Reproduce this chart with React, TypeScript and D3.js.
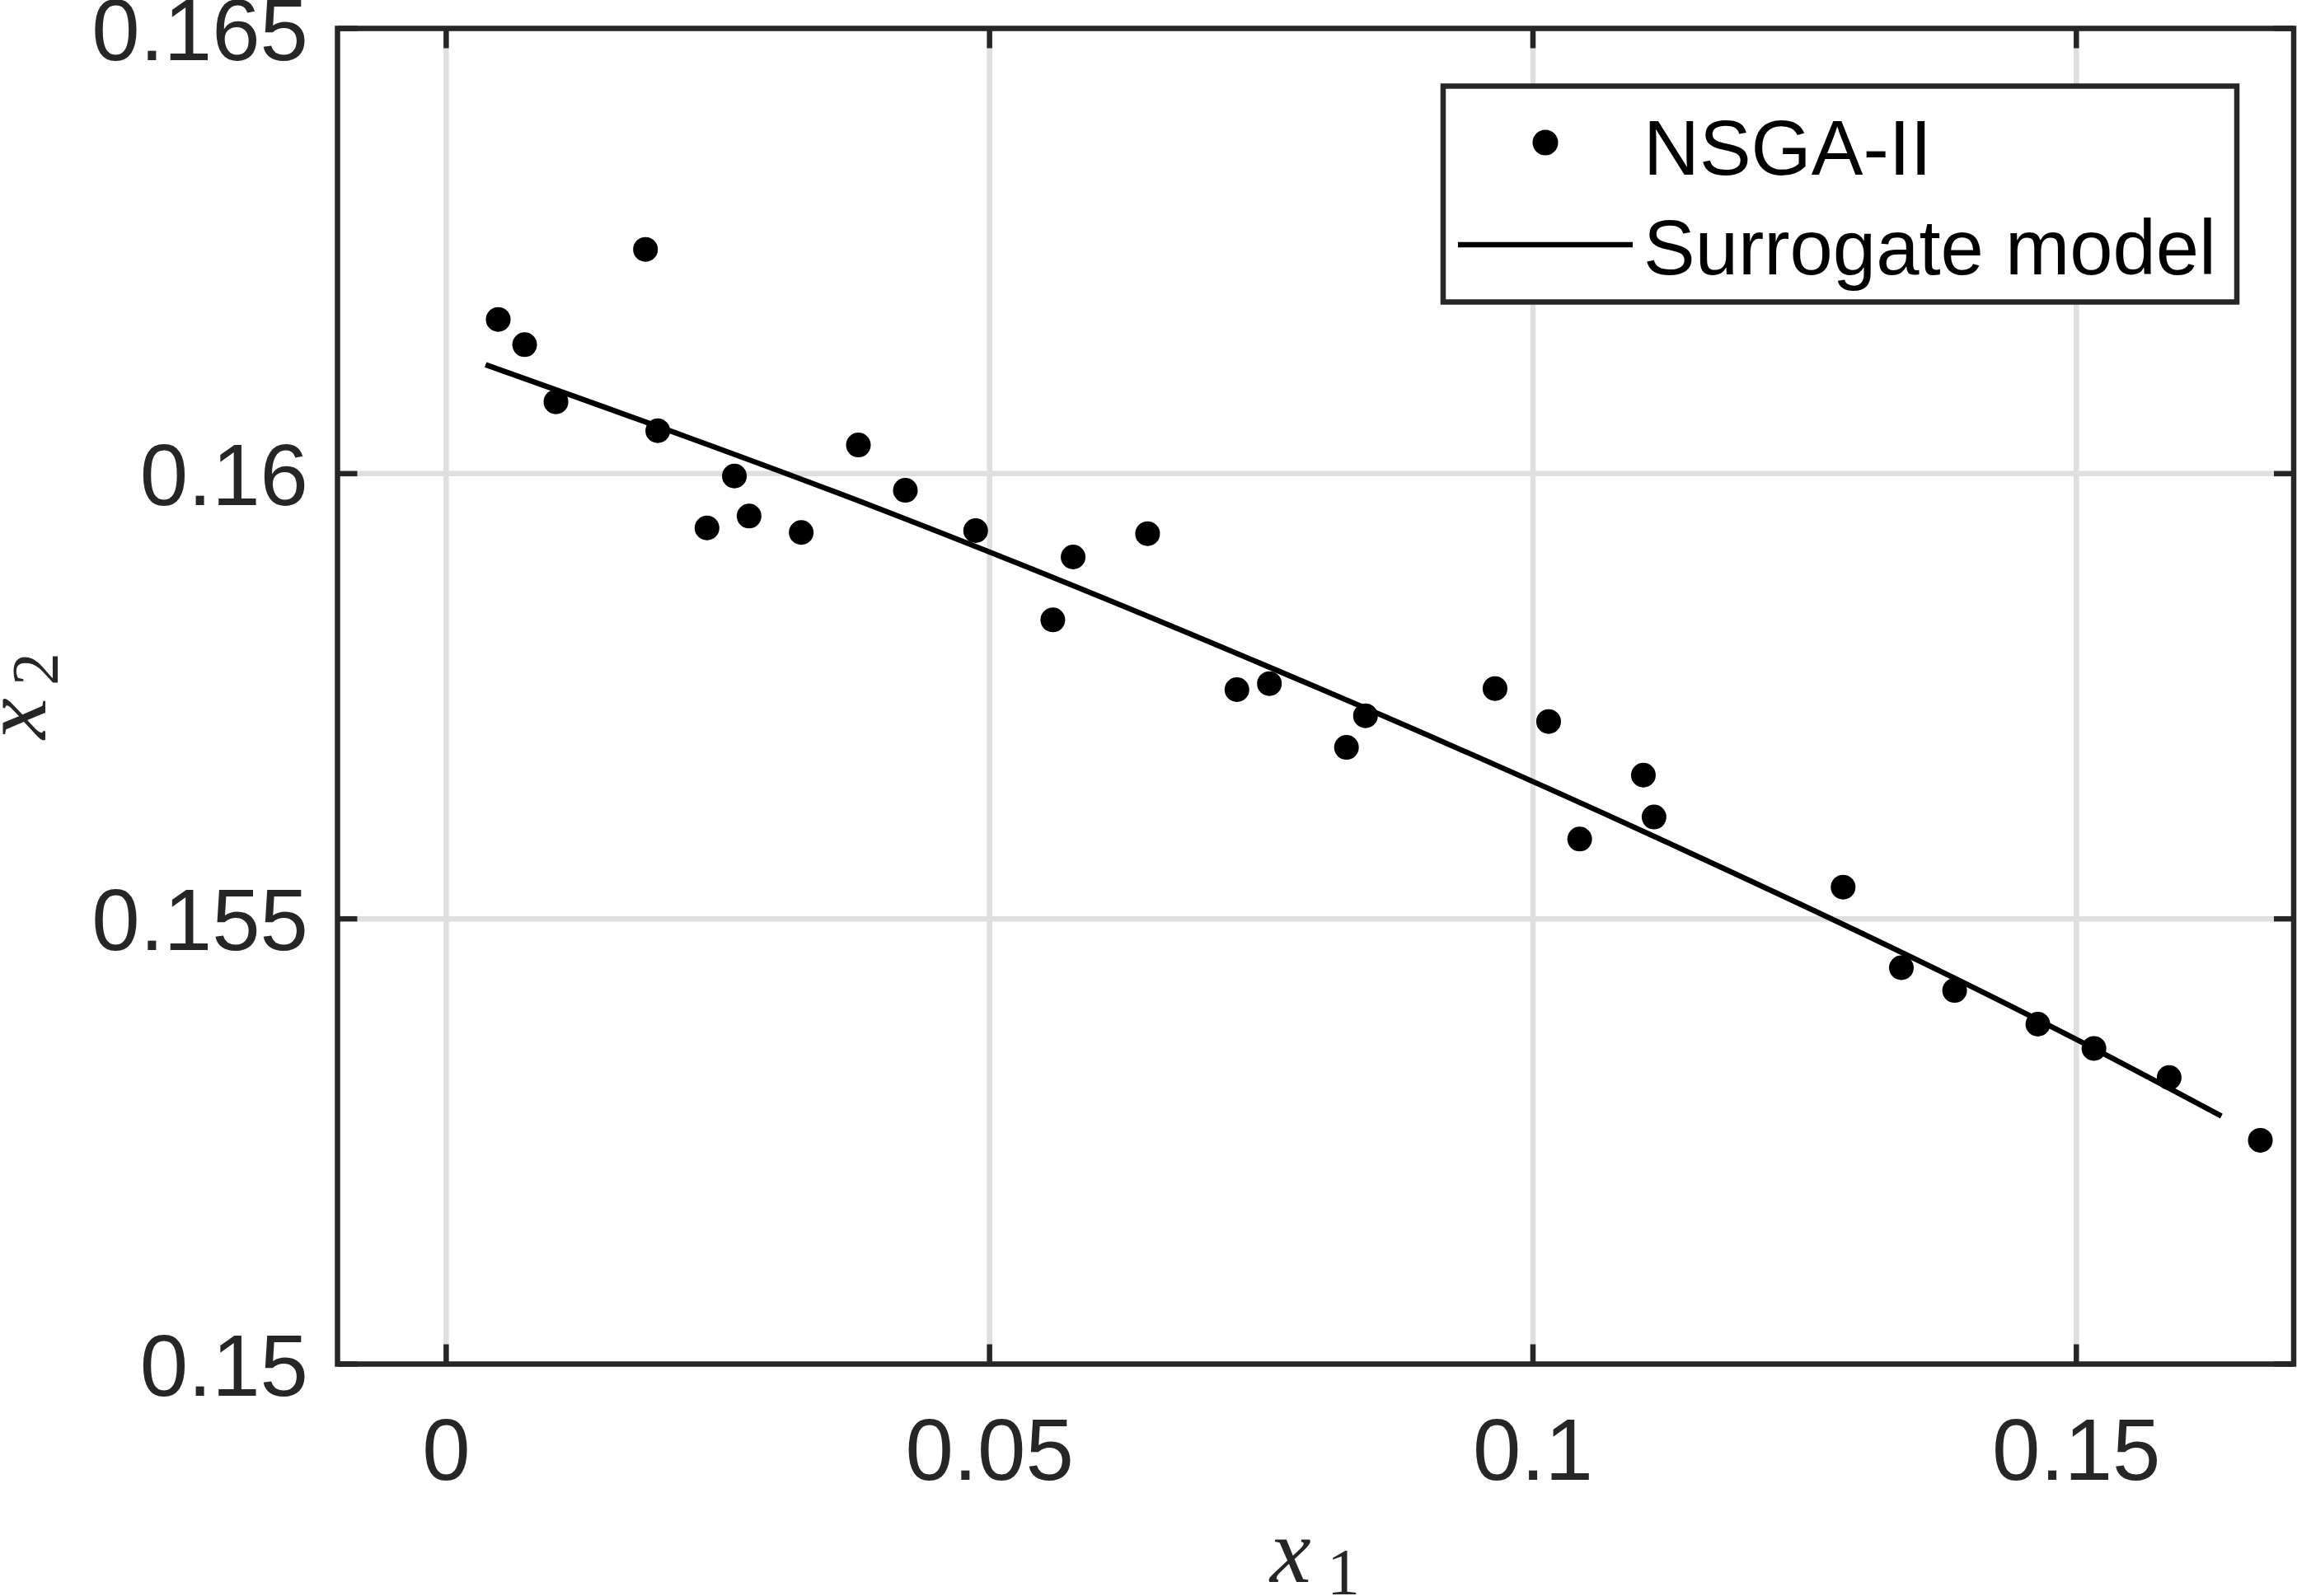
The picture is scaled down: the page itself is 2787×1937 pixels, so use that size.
import React from 'react';
import * as d3 from 'd3';

// NSGA-II points (x1, x2)
const nsgaX = [
  0.00479, 0.00722, 0.0101, 0.01834, 0.01947, 0.0240, 0.02652, 0.02787, 0.03267,
  0.03793, 0.04225, 0.04872, 0.05582, 0.05769, 0.06454, 0.07276, 0.07575, 0.08284,
  0.08459, 0.09651, 0.10144, 0.1043, 0.11016, 0.11114, 0.12854, 0.1339, 0.1388,
  0.14646, 0.15162, 0.15854, 0.16693,
];
const nsgaY = [
  0.161732, 0.161448, 0.160806, 0.162518, 0.160482, 0.15939, 0.159973, 0.159524, 0.159339,
  0.160322, 0.159813, 0.15936, 0.158358, 0.159064, 0.159326, 0.157574, 0.157642, 0.156926,
  0.157281, 0.157586, 0.157216, 0.155896, 0.156614, 0.156144, 0.155356, 0.154451, 0.154196,
  0.153817, 0.153545, 0.153217, 0.152513,
];

// Surrogate model curve samples
const surrogateX = [0.003625, 0.040833, 0.080263, 0.110594, 0.150024, 0.163347];
const surrogateY = [0.161223, 0.159559, 0.157592, 0.155957, 0.153644, 0.152785];

const xTicks = [0, 0.05, 0.1, 0.15];
const xTickLabels = ['0', '0.05', '0.1', '0.15'];
const yTicks = [0.15, 0.155, 0.16, 0.165];
const yTickLabels = ['0.15', '0.155', '0.16', '0.165'];
const legendLabels = ['NSGA-II', 'Surrogate model'];

export default function App() {
  const W = 2787;
  const H = 1937;
  const L = 409.5, R = 2783, T = 34.5, B = 1655.5;
  const x = d3.scaleLinear().domain([-0.01, 0.17]).range([L, R]);
  const y = d3.scaleLinear().domain([0.15, 0.165]).range([B, T]);
  const idx = d3.range(surrogateX.length);
  const linePath = d3
    .line<number>()
    .x((i) => x(surrogateX[i]))
    .y((i) => y(surrogateY[i]))
    .curve(d3.curveMonotoneX)(idx) as string;

  const axisColor = '#262626';
  const gridColor = '#dfdfdf';
  const sw = 6.5;
  const tickLen = 24;
  const sans = '"Liberation Sans", Arial, Helvetica, sans-serif';
  const serif = '"Liberation Serif", "Times New Roman", serif';

  return (
    <svg
      width={W}
      height={H}
      viewBox={`0 0 ${W} ${H}`}
      style={{ position: 'absolute', left: 0, top: 0, background: '#fff' }}
    >
      <rect x={0} y={0} width={W} height={H} fill="#fff" />
      {/* grid */}
      {xTicks.map((t) => (
        <line key={'gx' + t} x1={x(t)} x2={x(t)} y1={T} y2={B} stroke={gridColor} strokeWidth={sw} />
      ))}
      {yTicks.map((t) => (
        <line key={'gy' + t} x1={L} x2={R} y1={y(t)} y2={y(t)} stroke={gridColor} strokeWidth={sw} />
      ))}

      {/* surrogate model */}
      <path d={linePath} fill="none" stroke="#000" strokeWidth={6.5} />

      {/* NSGA-II points */}
      {nsgaX.map((v, i) => (
        <circle key={'p' + i} cx={x(v)} cy={y(nsgaY[i])} r={15} fill="#000" />
      ))}

      {/* ticks */}
      {xTicks.map((t) => (
        <g key={'tx' + t}>
          <line x1={x(t)} x2={x(t)} y1={B} y2={B - tickLen} stroke={axisColor} strokeWidth={sw} />
          <line x1={x(t)} x2={x(t)} y1={T} y2={T + tickLen} stroke={axisColor} strokeWidth={sw} />
        </g>
      ))}
      {yTicks.map((t) => (
        <g key={'ty' + t}>
          <line x1={L} x2={L + tickLen} y1={y(t)} y2={y(t)} stroke={axisColor} strokeWidth={sw} />
          <line x1={R} x2={R - tickLen} y1={y(t)} y2={y(t)} stroke={axisColor} strokeWidth={sw} />
        </g>
      ))}

      {/* box */}
      <rect x={L} y={T} width={R - L} height={B - T} fill="none" stroke={axisColor} strokeWidth={sw} />

      {/* tick labels */}
      {xTicks.map((t, i) => (
        <text
          key={'lx' + t}
          x={x(t)}
          y={1796}
          textAnchor="middle"
          fontFamily={sans}
          fontSize={105}
          fill={axisColor}
        >
          {xTickLabels[i]}
        </text>
      ))}
      {yTicks.map((t, i) => (
        <text
          key={'ly' + t}
          x={374}
          y={y(t) + 38}
          textAnchor="end"
          fontFamily={sans}
          fontSize={105}
          fill={axisColor}
        >
          {yTickLabels[i]}
        </text>
      ))}

      {/* axis labels */}
      <g fill={axisColor} fontFamily={serif}>
        <text x={1541} y={1920} fontSize={112} fontStyle="italic">x</text>
        <text x={1610} y={1935} fontSize={80}>1</text>
      </g>
      <g fill={axisColor} fontFamily={serif} transform="translate(55,846) rotate(-90)">
        <text x={-51} y={0} fontSize={112} fontStyle="italic">x</text>
        <text x={14} y={15} fontSize={80}>2</text>
      </g>

      {/* legend */}
      <rect x={1751} y={104.5} width={2714 - 1751} height={366.5 - 104.5} fill="#fff" stroke={axisColor} strokeWidth={sw} />
      <circle cx={1875} cy={173} r={15.5} fill="#000" />
      <line x1={1769} x2={1981} y1={297} y2={297} stroke="#000" strokeWidth={6.5} />
      <text x={1994} y={212} fontFamily={sans} fontSize={94} fill="#000">
        {legendLabels[0]}
      </text>
      <text x={1994} y={333} fontFamily={sans} fontSize={94} fill="#000">
        {legendLabels[1]}
      </text>
    </svg>
  );
}
